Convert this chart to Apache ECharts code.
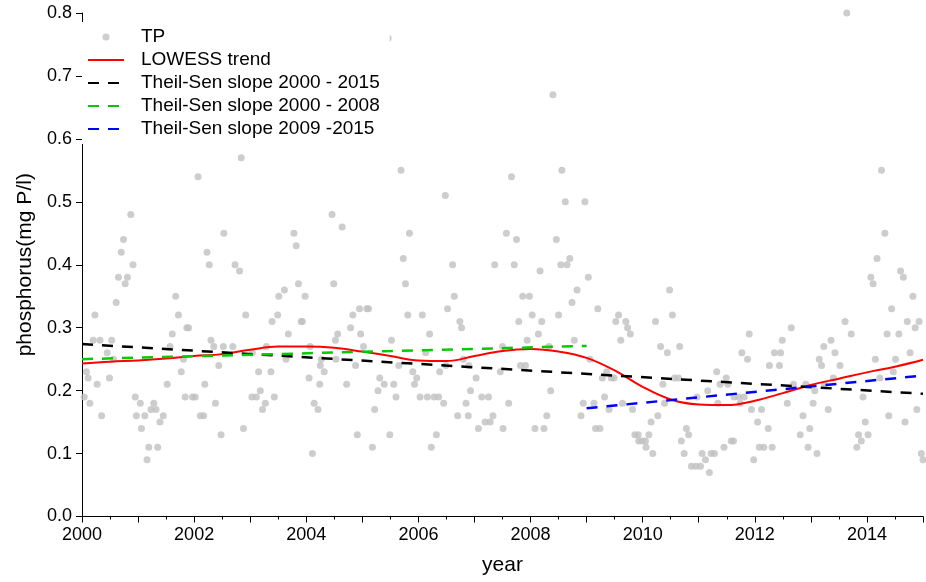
<!DOCTYPE html>
<html><head><meta charset="utf-8">
<script src="https://cdn.jsdelivr.net/npm/echarts@6/dist/echarts.min.js"></script>
<style>html,body{margin:0;padding:0;background:#fff}#c{width:926px;height:582px}</style>
</head><body><div id="c"></div>
<script>
// TP samples [decimal year, mg P/l]
const tp2000 = [[2000.04,0.19],[2000.08,0.23],[2000.11,0.22],[2000.14,0.18],[2000.20,0.28],[2000.23,0.32],[2000.27,0.21],[2000.32,0.28],[2000.35,0.16],[2000.45,0.26],[2000.49,0.22],[2000.53,0.28],[2000.56,0.25],[2000.61,0.34],[2000.65,0.38],[2000.70,0.42],[2000.74,0.44],[2000.77,0.37],[2000.81,0.38],[2000.87,0.48],[2000.91,0.40],[2000.95,0.19],[2000.97,0.16],[2001.04,0.18],[2001.06,0.14],[2001.12,0.16],[2001.16,0.09],[2001.19,0.11],[2001.23,0.17],[2001.28,0.18],[2001.32,0.17],[2001.35,0.11],[2001.39,0.15],[2001.45,0.16],[2001.52,0.21],[2001.57,0.27],[2001.61,0.29],[2001.67,0.35],[2001.72,0.32],[2001.77,0.23],[2001.81,0.25],[2001.84,0.19],[2001.87,0.30],[2001.90,0.30],[2001.97,0.19],[2002.02,0.19],[2002.07,0.54],[2002.11,0.16],[2002.17,0.16],[2002.19,0.21],[2002.23,0.42],[2002.27,0.40],[2002.30,0.28],[2002.35,0.27],[2002.38,0.18],[2002.44,0.24],[2002.48,0.13],[2002.52,0.27],[2002.53,0.45]];
const tp2002 = [[2002.69,0.27],[2002.73,0.40],[2002.81,0.39],[2002.84,0.57],[2002.88,0.14],[2002.92,0.32],[2003.03,0.19],[2003.04,0.26],[2003.11,0.19],[2003.15,0.23],[2003.18,0.20],[2003.22,0.17],[2003.27,0.18],[2003.29,0.27],[2003.37,0.23],[2003.39,0.31],[2003.43,0.19],[2003.49,0.32],[2003.51,0.35],[2003.61,0.36],[2003.64,0.25],[2003.68,0.29],[2003.78,0.45],[2003.82,0.43],[2003.86,0.37],[2003.91,0.31],[2003.93,0.31],[2003.98,0.35],[2004.05,0.22],[2004.07,0.27],[2004.11,0.10],[2004.14,0.18],[2004.21,0.17],[2004.24,0.21],[2004.25,0.24],[2004.27,0.25],[2004.32,0.23],[2004.46,0.48],[2004.49,0.37],[2004.52,0.28],[2004.53,0.25],[2004.56,0.29],[2004.64,0.46],[2004.72,0.21],[2004.79,0.30],[2004.83,0.32],[2004.88,0.24],[2004.91,0.13],[2004.95,0.33],[2004.97,0.29]];
const tp2005 = [[2005.02,0.27],[2005.08,0.33],[2005.11,0.33],[2005.18,0.11],[2005.22,0.17],[2005.28,0.20],[2005.31,0.22],[2005.39,0.21],[2005.46,0.76],[2005.49,0.13],[2005.52,0.28],[2005.56,0.21],[2005.60,0.19],[2005.65,0.24],[2005.69,0.55],[2005.73,0.41],[2005.77,0.37],[2005.81,0.32],[2005.84,0.45],[2005.90,0.23],[2005.93,0.21],[2005.97,0.22],[2006.03,0.19],[2006.07,0.32],[2006.13,0.26],[2006.16,0.19],[2006.20,0.29],[2006.23,0.11],[2006.28,0.19],[2006.32,0.13],[2006.36,0.19],[2006.38,0.23],[2006.45,0.18],[2006.48,0.51],[2006.49,0.24],[2006.52,0.33],[2006.61,0.40],[2006.64,0.35],[2006.70,0.16],[2006.74,0.31],[2006.77,0.30],[2006.80,0.25],[2006.85,0.18],[2006.89,0.16],[2006.90,0.24],[2006.93,0.20],[2007.03,0.22],[2007.07,0.14],[2007.13,0.19],[2007.19,0.15],[2007.25,0.19],[2007.28,0.15],[2007.33,0.16],[2007.36,0.40],[2007.46,0.23],[2007.50,0.27],[2007.51,0.14]];
const tp2007 = [[2007.57,0.45],[2007.61,0.18],[2007.66,0.54],[2007.71,0.40],[2007.75,0.44],[2007.79,0.31],[2007.82,0.24],[2007.86,0.35],[2007.91,0.24],[2007.94,0.28],[2007.98,0.35],[2008.03,0.32],[2008.08,0.14],[2008.14,0.29],[2008.17,0.39],[2008.20,0.31],[2008.24,0.14],[2008.29,0.16],[2008.33,0.27],[2008.36,0.20],[2008.40,0.67],[2008.46,0.44],[2008.50,0.32],[2008.54,0.40],[2008.56,0.55],[2008.62,0.50],[2008.65,0.40],[2008.70,0.41],[2008.74,0.34],[2008.78,0.28],[2008.83,0.36],[2008.90,0.16],[2008.94,0.18],[2008.97,0.50],[2009.03,0.38],[2009.06,0.25],[2009.13,0.18],[2009.16,0.14],[2009.20,0.33],[2009.24,0.14],[2009.28,0.22],[2009.32,0.19],[2009.36,0.23],[2009.40,0.17],[2009.44,0.22],[2009.49,0.22],[2009.52,0.31],[2009.57,0.32],[2009.61,0.28],[2009.64,0.18],[2009.70,0.31],[2009.73,0.30],[2009.78,0.29],[2009.82,0.17],[2009.86,0.13],[2009.92,0.13],[2009.93,0.12],[2009.99,0.12]];
const tp2010 = [[2010.05,0.12],[2010.06,0.11],[2010.11,0.13],[2010.15,0.15],[2010.18,0.10],[2010.23,0.31],[2010.27,0.16],[2010.32,0.27],[2010.36,0.21],[2010.39,0.18],[2010.44,0.26],[2010.48,0.36],[2010.53,0.32],[2010.57,0.22],[2010.64,0.22],[2010.66,0.27],[2010.69,0.12],[2010.74,0.10],[2010.78,0.14],[2010.82,0.13],[2010.87,0.08],[2010.95,0.08],[2010.97,0.19],[2011.03,0.08],[2011.06,0.10],[2011.12,0.09],[2011.16,0.20],[2011.19,0.07],[2011.22,0.10],[2011.28,0.10],[2011.32,0.23],[2011.34,0.18],[2011.38,0.21],[2011.45,0.11],[2011.49,0.22],[2011.52,0.21],[2011.58,0.12],[2011.62,0.12],[2011.63,0.19],[2011.71,0.19],[2011.74,0.18],[2011.77,0.26],[2011.81,0.19],[2011.87,0.25],[2011.90,0.29],[2011.94,0.17],[2011.98,0.09],[2012.05,0.15],[2012.08,0.11],[2012.12,0.17],[2012.16,0.11],[2012.24,0.14],[2012.26,0.24],[2012.31,0.11],[2012.35,0.26],[2012.44,0.24],[2012.46,0.26],[2012.49,0.28]];
const tp2012 = [[2012.58,0.18],[2012.65,0.30],[2012.69,0.21],[2012.81,0.13],[2012.86,0.16],[2012.91,0.21],[2012.95,0.11],[2012.98,0.14],[2013.04,0.18],[2013.07,0.20],[2013.11,0.10],[2013.15,0.25],[2013.19,0.24],[2013.23,0.27],[2013.24,0.21],[2013.31,0.17],[2013.36,0.28],[2013.40,0.22],[2013.43,0.26],[2013.52,0.24],[2013.61,0.31],[2013.64,0.80],[2013.72,0.29],[2013.82,0.11],[2013.85,0.13],[2013.90,0.12],[2013.93,0.19],[2013.97,0.15],[2014.02,0.13],[2014.07,0.38],[2014.11,0.37],[2014.15,0.25],[2014.18,0.41],[2014.23,0.22],[2014.26,0.55],[2014.32,0.45],[2014.36,0.29],[2014.39,0.16],[2014.44,0.33],[2014.47,0.23],[2014.51,0.25],[2014.57,0.29],[2014.60,0.39],[2014.65,0.38],[2014.68,0.15],[2014.72,0.31],[2014.77,0.26],[2014.82,0.35],[2014.86,0.30],[2014.89,0.17],[2014.93,0.31],[2014.97,0.10],[2015.00,0.09]];

// LOWESS trend
const lowessYear  = [2000,2000.5,2001,2001.5,2002,2002.5,2003,2003.5,2004,2004.5,2005,2005.5,2006,2006.5,2007,2007.5,2008,2008.5,2009,2009.5,2010,2010.5,2011,2011.5,2012,2012.5,2013,2013.5,2014,2014.5,2015];
const lowessValue = [0.243,0.246,0.248,0.251,0.255,0.258,0.265,0.270,0.270,0.268,0.262,0.255,0.248,0.247,0.255,0.263,0.266,0.262,0.252,0.232,0.206,0.186,0.178,0.177,0.184,0.196,0.209,0.219,0.229,0.238,0.249];

// Theil-Sen slopes: [start year, end year], [start value, end value]
const tsAllYears = [2000, 2015],  tsAllValues = [0.274, 0.195];
const tsEarlyYears = [2000, 2009], tsEarlyValues = [0.250, 0.271];
const tsLateYears = [2009, 2015],  tsLateValues = [0.172, 0.224];

const xTicks = [2000, 2015, 1];
const yTicks = [0, 0.8, 0.1];

const zip = (a, b) => a.map((v, i) => [v, b[i]]);
const FONT = 'Liberation Sans, Arial, sans-serif';
const tpData = [].concat(tp2000, tp2002, tp2005, tp2007, tp2010, tp2012);
const HIDDEN = { color: 'rgba(0,0,0,0)', borderColor: 'rgba(0,0,0,0)', borderWidth: 0 };

const chart = echarts.init(document.getElementById('c'));
chart.setOption({
  animation: false,
  backgroundColor: '#fff',
  textStyle: { fontFamily: FONT },
  grid: { left: 82, right: 1, top: 13, bottom: 65.5, containLabel: false },
  legend: {
    orient: 'vertical', left: 82, top: 22,
    backgroundColor: '#fff', padding: [5, 10, 5, 5],
    itemWidth: 36, itemHeight: 7, itemGap: 3,
    textStyle: { fontSize: 19, color: '#000', fontFamily: FONT, lineHeight: 20, padding: [0, 0, 0, 12] },
    data: ['TP', 'LOWESS trend', 'Theil-Sen slope 2000 - 2015', 'Theil-Sen slope 2000 - 2008', 'Theil-Sen slope 2009 -2015']
  },
  xAxis: {
    type: 'value', min: xTicks[0], max: xTicks[1], interval: xTicks[2],
    name: 'year', nameLocation: 'middle', nameGap: 38,
    nameTextStyle: { fontSize: 21, color: '#000', fontFamily: FONT },
    axisLine: { show: true, onZero: false, lineStyle: { color: '#000', width: 1 } },
    axisTick: { show: true, inside: false, length: 6, lineStyle: { color: '#000' } },
    minorTick: { show: true, splitNumber: 2, length: 3, lineStyle: { color: '#000' } },
    axisLabel: { fontSize: 18, color: '#000', margin: 10, fontFamily: FONT,
      formatter: v => (Math.round(v) % 2 === 0 && v < 2015 ? String(v) : '') },
    splitLine: { show: false }
  },
  yAxis: {
    type: 'value', min: yTicks[0], max: yTicks[1], interval: yTicks[2],
    name: 'phosphorus(mg P/l)', nameLocation: 'middle', nameGap: 46, nameRotate: 90,
    nameTextStyle: { fontSize: 21, color: '#000', fontFamily: FONT },
    axisLine: { show: true, onZero: false, lineStyle: { color: '#000', width: 1 } },
    axisTick: { show: true, inside: false, length: 6, lineStyle: { color: '#000' } },
    axisLabel: { fontSize: 18, color: '#000', margin: 10, fontFamily: FONT, formatter: v => v.toFixed(1) },
    splitLine: { show: false }
  },
  series: [
    { name: 'TP', type: 'scatter', data: tpData, symbol: 'circle', symbolSize: 7,
      itemStyle: { color: '#c0c0c0' }, z: 1 },
    { name: 'LOWESS trend', type: 'line', data: zip(lowessYear, lowessValue), smooth: 0.4,
      symbol: 'none', lineStyle: { color: '#ff0000', width: 2 }, itemStyle: HIDDEN, z: 2 },
    { name: 'Theil-Sen slope 2000 - 2015', type: 'line', data: zip(tsAllYears, tsAllValues),
      symbol: 'none', lineStyle: { color: '#000', width: 2.5, type: [11, 9] }, itemStyle: HIDDEN, z: 3 },
    { name: 'Theil-Sen slope 2000 - 2008', type: 'line', data: zip(tsEarlyYears, tsEarlyValues),
      symbol: 'none', lineStyle: { color: '#00cc00', width: 2.5, type: [11, 9] }, itemStyle: HIDDEN, z: 3 },
    { name: 'Theil-Sen slope 2009 -2015', type: 'line', data: zip(tsLateYears, tsLateValues),
      symbol: 'none', lineStyle: { color: '#0000ff', width: 2.5, type: [11, 9] }, itemStyle: HIDDEN, z: 3 }
  ]
});
</script></body></html>
